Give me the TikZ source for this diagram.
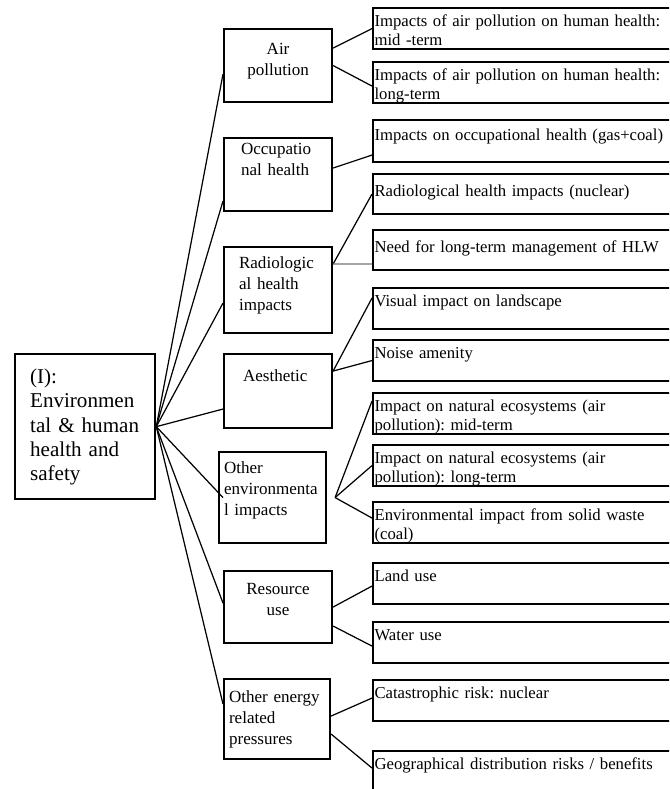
\documentclass[tikz,border=0pt]{standalone}
\usepackage{fontspec}
\setmainfont{Liberation Serif}
\usetikzlibrary{positioning}
\newcommand{\rootfont}{\fontsize{12}{13.9}\selectfont}
\newcommand{\catfont}{\fontsize{9.7}{12.2}\selectfont}
\newcommand{\leaffont}{\fontsize{9.5}{10.8}\selectfont}
\hyphenpenalty=10000
\frenchspacing

\begin{document}
\begin{tikzpicture}[
        rootbox/.style={draw, line width=1.3pt, anchor=north west, inner xsep=0.3cm, inner ysep=0pt, text width=2.2cm, align=left, font=\rootfont},
        catbox/.style={draw, line width=1.2pt, anchor=north west, inner xsep=0.1cm, inner ysep=0pt, text width=1.96cm, align=left, font=\catfont},
        leafbox/.style={draw, line width=1.2pt, anchor=north west, inner xsep=0.03cm, inner ysep=0pt, text width=6.2cm, align=left, font=\leaffont, text height=0.36cm, text depth=0.46cm},
        link/.style={line width=0.7pt}
    ]
        \useasboundingbox (0, 0) rectangle (13.38, -15.78);
        \clip (0, 0) rectangle (13.38, -15.78);

        % Main criterion
        \node[rootbox, text height=0.58cm, text depth=2.32cm] (root) at (0.28, -7.06) {(I):\\Environmen\\tal \& human\\health and\\safety};

        % Sub-criteria
        \node[catbox, align=center, text height=0.51cm, text depth=0.95cm] (air) at (4.46, -0.56) {Air\\pollution};

        \node[catbox, inner xsep=0.34cm, text width=1.48cm, text height=0.32cm, text depth=1.14cm] (occ) at (4.46, -2.74) {Occupatio\\nal health};

        \node[catbox, inner xsep=0.3cm, text width=1.56cm, text height=0.42cm, text depth=1.30cm] (rad) at (4.46, -4.92) {Radiologic\\al health\\impacts};

        \node[catbox, inner xsep=0.38cm, text width=1.40cm, text height=0.54cm, text depth=0.94cm] (aes) at (4.46, -7.06) {Aesthetic};

        \node[catbox, text width=1.94cm, text height=0.42cm, text depth=1.40cm] (othenv) at (4.36, -9.02) {Other\\environmenta\\l impacts};

        \node[catbox, align=center, text height=0.46cm, text depth=0.98cm] (res) at (4.46, -11.40) {Resource\\use};

        \node[catbox, text width=1.92cm, text height=0.46cm, text depth=1.14cm] (othen) at (4.46, -13.56) {Other energy\\related\\pressures};

        % Indicators
        \node[leafbox] (l1) at (7.44, -0.14) {Impacts of air pollution on human health:\\mid -term};
        \node[leafbox] (l2) at (7.44, -1.22) {Impacts of air pollution on human health:\\long-term};
        \node[leafbox, text height=0.40cm, text depth=0.44cm] (l3) at (7.44, -2.38) {Impacts on occupational health (gas+coal)};
        \node[leafbox, text height=0.44cm, text depth=0.36cm] (l4) at (7.44, -3.46) {Radiological health impacts (nuclear)};
        \node[leafbox, text height=0.44cm, text depth=0.36cm] (l5) at (7.44, -4.58) {Need for long-term management of HLW};
        \node[leafbox] (l6) at (7.44, -5.74) {Visual impact on landscape};
        \node[leafbox] (l7) at (7.44, -6.78) {Noise amenity};
        \node[leafbox] (l8) at (7.44, -7.84) {Impact on natural ecosystems (air\\pollution): mid-term};
        \node[leafbox] (l9) at (7.44, -8.88) {Impact on natural ecosystems (air\\pollution): long-term};
        \node[leafbox] (l10) at (7.44, -10.02) {Environmental impact from solid waste\\(coal)};
        \node[leafbox] (l11) at (7.44, -11.24) {Land use};
        \node[leafbox] (l12) at (7.44, -12.42) {Water use};
        \node[leafbox] (l13) at (7.44, -13.58) {Catastrophic risk: nuclear};
        \node[leafbox] (l14) at (7.44, -15.00) {Geographical distribution risks / benefits};

        % Links - main criterion
        \draw[link] (root.east) -- ([yshift=-0.17cm]air.west);
        \draw[link] (root.east) -- ([yshift=-0.53cm]occ.west);
        \draw[link] (root.east) -- ([yshift=-0.26cm]rad.west);
        \draw[link] (root.east) -- ([yshift=-0.36cm]aes.west);
        \draw[link] (root.east) -- ([xshift=0.1cm]othenv.west);
        \draw[link] (root.east) -- ([yshift=0.08cm]res.west);
        \draw[link] (root.east) -- ([yshift=0.30cm]othen.west);

        % Links - sub-criteria
        \draw[link] ([yshift=0.35cm]air.east) -- (l1.west);
        \draw[link] (air.east) -- ([yshift=-0.07cm]l2.west);
        \draw[link] ([yshift=0.13cm]occ.east) -- ([yshift=-0.28cm]l3.west);
        \draw[link] ([yshift=0.52cm]rad.east) -- (l4.west);
        \draw[link, black!55] ([yshift=0.52cm]rad.east) -- ([yshift=-0.28cm]l5.west);
        \draw[link] ([yshift=0.40cm]aes.east) -- ([yshift=0.21cm]l6.west);
        \draw[link] ([yshift=0.40cm]aes.east) -- (l7.west);
        \draw[link] ([xshift=0.16cm]othenv.east) -- ([yshift=0.25cm]l8.west);
        \draw[link] ([xshift=0.16cm]othenv.east) -- (l9.west);
        \draw[link] ([xshift=0.16cm]othenv.east) -- ([yshift=0.09cm]l10.west);
        \draw[link] (res.east) -- ([yshift=-0.05cm]l11.west);
        \draw[link] ([yshift=-0.38cm]res.east) -- ([yshift=-0.07cm]l12.west);
        \draw[link] ([yshift=0.06cm]othen.east) -- ([yshift=0.05cm]l13.west);
        \draw[link] ([yshift=-0.30cm]othen.east) -- ([yshift=0.07cm]l14.west);
    \end{tikzpicture}
\end{document}
